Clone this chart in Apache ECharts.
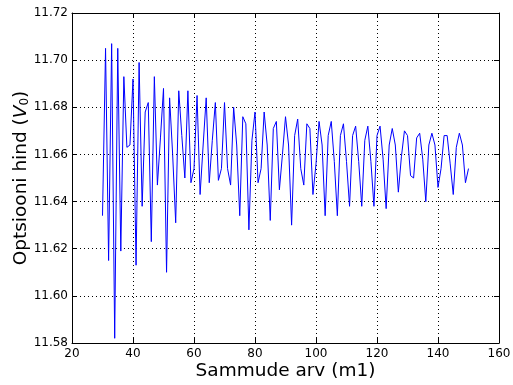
<!DOCTYPE html>
<html>
<head>
<meta charset="utf-8">
<script src="https://cdn.jsdelivr.net/npm/echarts@6/dist/echarts.min.js"></script>
<style>html,body{margin:0;padding:0;background:#fff;}#c{width:513px;height:385px;}</style>
</head>
<body>
<div id="c"></div>
<script>
const steps = [30,31,32,33,34,35,36,37,38,39,40,41,42,43,44,45,46,47,48,49,50,51,52,53,54,55,56,57,58,59,
60,61,62,63,64,65,66,67,68,69,70,71,72,73,74,75,76,77,78,79,80,81,82,83,84,85,86,87,88,89,
90,91,92,93,94,95,96,97,98,99,100,101,102,103,104,105,106,107,108,109,110,111,112,113,114,115,116,117,118,119,
120,121,122,123,124,125,126,127,128,129,130,131,132,133,134,135,136,137,138,139,140,141,142,143,144,145,146,147,148,149,150];
const prices = [11.634,11.705,11.615,11.707,11.582,11.705,11.619,11.693,11.663,11.664,
11.692,11.613,11.699,11.638,11.678,11.682,11.623,11.693,11.647,11.667,
11.688,11.610,11.684,11.660,11.631,11.687,11.668,11.650,11.687,11.648,
11.654,11.685,11.643,11.664,11.684,11.648,11.666,11.682,11.649,11.654,
11.682,11.654,11.647,11.680,11.664,11.634,11.676,11.673,11.628,11.666,
11.678,11.648,11.654,11.678,11.664,11.632,11.671,11.674,11.645,11.660,
11.676,11.664,11.630,11.668,11.675,11.654,11.647,11.673,11.671,11.643,
11.656,11.674,11.664,11.634,11.668,11.674,11.657,11.634,11.668,11.673,
11.657,11.638,11.668,11.672,11.657,11.638,11.666,11.672,11.657,11.638,
11.668,11.672,11.658,11.637,11.664,11.671,11.664,11.644,11.659,11.670,
11.668,11.651,11.650,11.667,11.669,11.658,11.640,11.664,11.669,11.664,
11.646,11.654,11.668,11.668,11.656,11.643,11.663,11.669,11.664,11.648,11.654];
const xTicks = {min:20, max:160, step:20};
const yTicks = {min:11.58, max:11.72, step:0.02};
const xTitle = 'Sammude arv (m1)';
const yTitlePre = 'Optsiooni hind (';

const chart = echarts.init(document.getElementById('c'), null, {renderer:'canvas'});
const font = 'DejaVu Sans';
const gridStyle = {show:true, lineStyle:{color:'#000', type:[1,3], width:1}};
const tick = {show:true, inside:true, length:5, lineStyle:{color:'#000'}};
const axLine = {show:true, onZero:false, lineStyle:{color:'#000', width:1}};
chart.setOption({
  animation:false,
  backgroundColor:'#fff',
  grid:{left:72, right:14, top:13, bottom:42, containLabel:false, outerBoundsMode:'none'},
  xAxis:[{
    type:'value', min:xTicks.min, max:xTicks.max, interval:xTicks.step,
    axisLine:axLine, axisTick:tick, splitLine:gridStyle,
    axisLabel:{color:'#000', fontFamily:font, fontSize:12, margin:5},
    name:xTitle, nameLocation:'middle', nameGap:19, nameMoveOverlap:false,
    nameTextStyle:{color:'#000', fontFamily:font, fontSize:18.5}
  },{
    type:'value', position:'top', min:xTicks.min, max:xTicks.max, interval:xTicks.step,
    axisLine:axLine, axisTick:tick, splitLine:{show:false}, axisLabel:{show:false}
  }],
  yAxis:[{
    type:'value', min:yTicks.min, max:yTicks.max, interval:yTicks.step,
    axisLine:axLine, axisTick:tick, splitLine:gridStyle,
    axisLabel:{color:'#000', fontFamily:font, fontSize:12, margin:4, formatter:v=>v.toFixed(2)},
    name:'{a|'+yTitlePre+'}{i|V}{s|0}{a|)}', nameLocation:'middle', nameGap:41, nameRotate:90, nameMoveOverlap:false,
    nameTextStyle:{color:'#000', fontFamily:font, fontSize:18.5,
      rich:{a:{fontFamily:font, fontSize:18.5, color:'#000'},
            i:{fontFamily:font, fontSize:18.5, fontStyle:'italic', color:'#000'},
            s:{fontFamily:font, fontSize:12, color:'#000', verticalAlign:'bottom', padding:[8,0,0,0]}}}
  },{
    type:'value', position:'right', min:yTicks.min, max:yTicks.max, interval:yTicks.step,
    axisLine:axLine, axisTick:tick, splitLine:{show:false}, axisLabel:{show:false}
  }],
  series:[{
    type:'line', xAxisIndex:0, yAxisIndex:0,
    data: steps.map((s,i)=>[s, prices[i]]),
    showSymbol:false, symbol:'none',
    lineStyle:{color:'#0000ff', width:1},
    emphasis:{disabled:true}
  }]
});
</script>
</body>
</html>
